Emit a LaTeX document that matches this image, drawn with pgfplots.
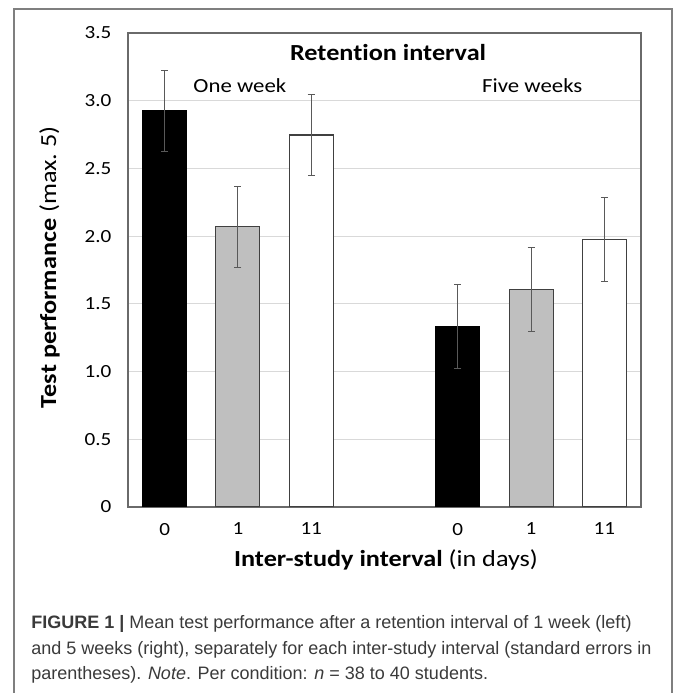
\documentclass[border=0pt]{standalone}
\usepackage{pgfplots}
\pgfplotsset{compat=1.18}
\usepackage{fontspec}
\setmainfont{Carlito}[FakeStretch=1.14, Ligatures=NoCommon]
\newfontfamily\capfont{Liberation Sans}
\definecolor{bargrey}{HTML}{BFBFBF}
\definecolor{edge}{HTML}{404040}
\definecolor{errc}{HTML}{595959}
\definecolor{gridc}{HTML}{D9D9D9}
\definecolor{framec}{HTML}{7F7F7F}
\definecolor{axisc}{HTML}{6A6A6A}
\definecolor{captxt}{HTML}{3A3A3A}

\begin{document}
\begin{tikzpicture}[x=0.75pt, y=0.75pt]
\useasboundingbox (0,0) rectangle (673,693);
% outer figure frame
\draw[framec, line width=1.1pt] (14,-20) -- (14,684) -- (672,684) -- (672,-20);

\begin{axis}[
    at={(96pt,139.5pt)}, anchor=south west,
    scale only axis,
    width=384.75pt, height=355.5pt,
    xmin=-0.5, xmax=6.5,
    ymin=0, ymax=3.5,
    xtick={0,1,2,4,5,6},
    xticklabels={0,1,11,0,1,11},
    ytick={0,0.5,1,1.5,2,2.5,3,3.5},
    yticklabels={0,0.5,1.0,1.5,2.0,2.5,3.0,3.5},
    major tick length=0pt,
    ymajorgrids=true,
    grid style={gridc, line width=0.9pt},
    axis line style={axisc, line width=0.9pt},
    tick label style={font=\fontsize{13.9}{16}\selectfont, text=black},
    /pgf/number format/assume math mode=true,
    yticklabel style={xshift=-9pt},
    xticklabel style={yshift=-8.5pt},
    xlabel={\textbf{Inter-study interval} (in days)},
    ylabel={\textbf{Test performance} (max.~5)},
    label style={font=\fontsize{17.25}{20}\selectfont},
    xlabel style={at={(axis description cs:0.503,-0.112)}, anchor=center},
    ylabel style={at={(axis description cs:-0.153,0.506)}, anchor=center, rotate=0},
    error bars/y dir=both, error bars/y explicit,
    error bars/error bar style={errc, line width=0.75pt},
    error bars/error mark options={errc, line width=0.75pt, mark size=2.6pt, rotate=90},
]

% inter-study interval 0 days
\addplot[ybar, bar width=0.6, fill=black, draw=black, line width=0.8pt]
    coordinates {
(0,2.925) +- (0,0.30)
(4,1.332) +- (0,0.31)
    };

% inter-study interval 1 day
\addplot[ybar, bar width=0.6, fill=bargrey, draw=edge, line width=0.8pt]
    coordinates {
(1,2.070) +- (0,0.30)
(5,1.605) +- (0,0.31)
    };

% inter-study interval 11 days
\addplot[ybar, bar width=0.6, fill=white, draw=edge, line width=0.8pt]
    coordinates {
(2,2.747) +- (0,0.30)
(6,1.972) +- (0,0.31)
    };

\node[font=\bfseries\fontsize{17.25}{20}\selectfont] at (axis description cs:0.507,0.958) {Retention interval};
\node[font=\fontsize{15}{18}\selectfont] at (axis description cs:0.218,0.888) {One week};
\node[font=\fontsize{15}{18}\selectfont] at (axis description cs:0.788,0.888) {Five weeks};
\end{axis}

% figure caption
\begin{scope}[every node/.style={anchor=base west, inner sep=0pt, text=captxt, font=\capfont\fontsize{13.5}{16}\selectfont}]
\node at (31,64.5) {\textbf{FIGURE 1 |} Mean test performance after a retention interval of 1 week (left)};
\node at (31,38.5) {and 5 weeks (right), separately for each inter-study interval (standard errors in};
\node at (31,13.5) {parentheses). \textit{Note}. Per condition: \textit{n} = 38 to 40 students.};
\end{scope}
\end{tikzpicture}
\end{document}
